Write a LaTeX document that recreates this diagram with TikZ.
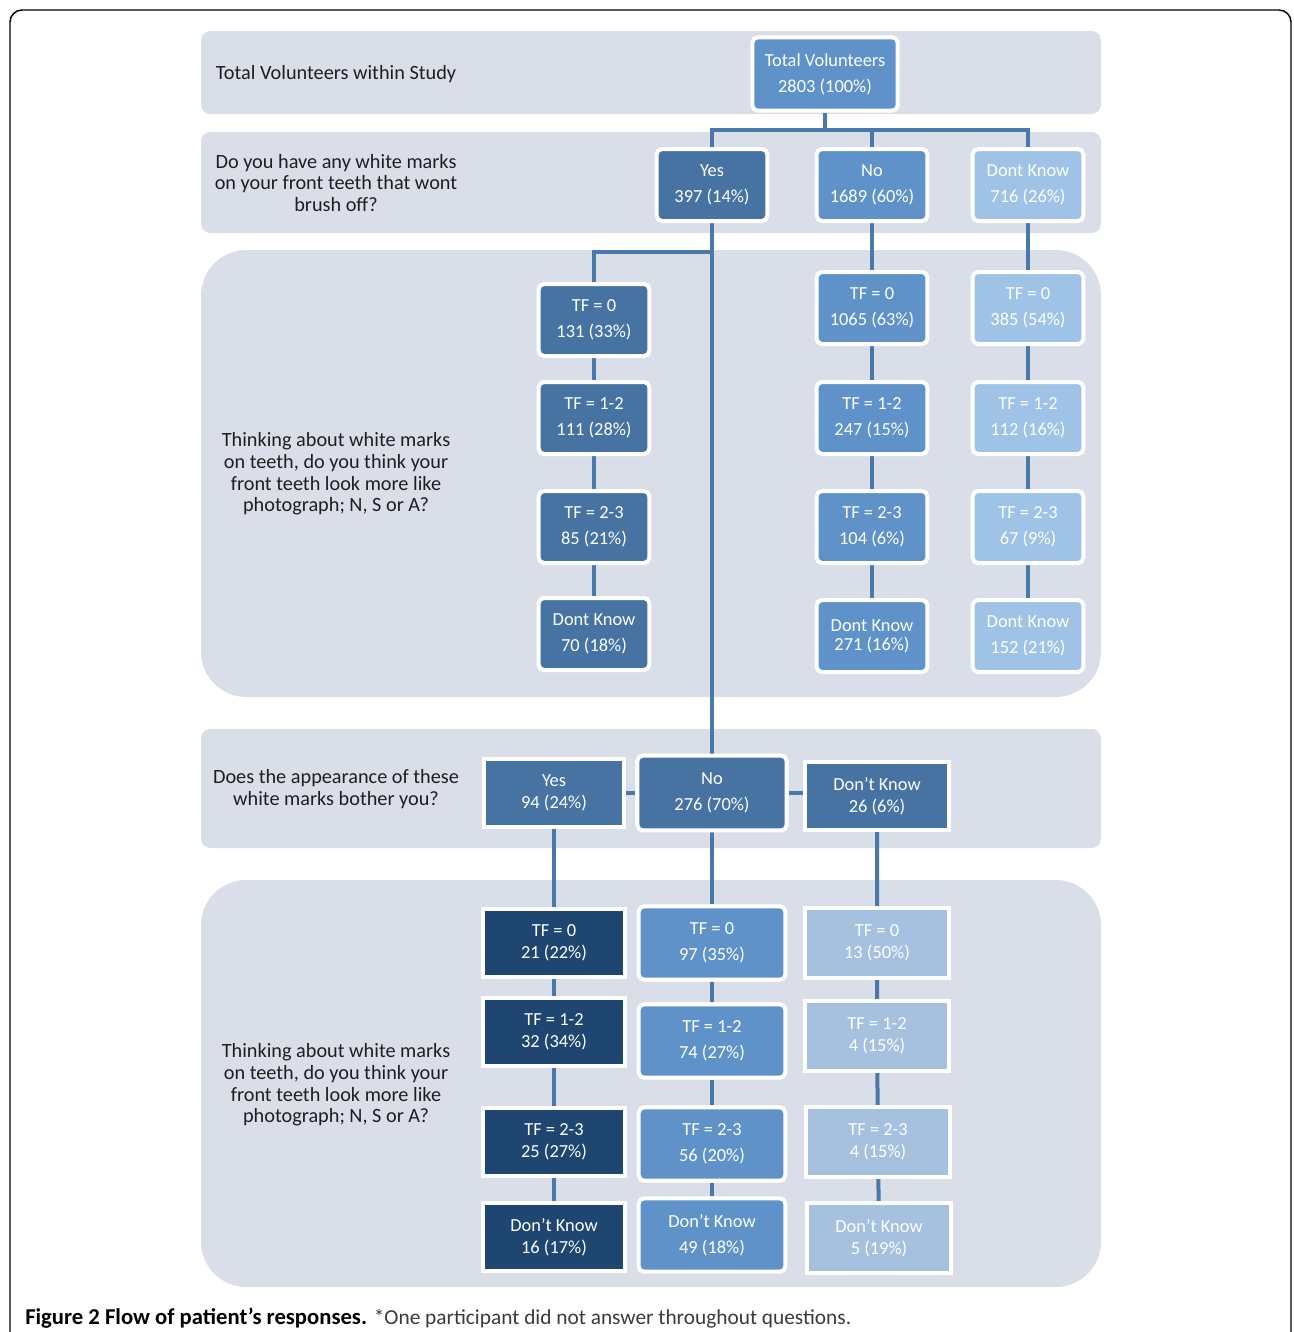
\documentclass[tikz,border=0pt]{standalone}
\usepackage{fontspec}
\setmainfont{Carlito}
\usepackage{tikz}
\usetikzlibrary{backgrounds,positioning}
\definecolor{bandgray}{HTML}{D9DEE9}
\definecolor{linkblue}{HTML}{4A78A8}
\definecolor{darkbox}{HTML}{4673A2}
\definecolor{midbox}{HTML}{5F92C8}
\definecolor{lightbox}{HTML}{9EC3E7}
\definecolor{navybox}{HTML}{1F4670}
\definecolor{palebox}{HTML}{A6C0E0}
\definecolor{capgray}{HTML}{3A3A3A}

\begin{document}
\begin{tikzpicture}[x=0.75pt,y=-0.75pt,
    rbox/.style={draw=white, line width=3pt, rounded corners=4pt, text=white, align=center,
        inner sep=0pt, minimum width=83pt, minimum height=54pt, font=\fontsize{13.8}{19.5}\selectfont},
    sbox/.style={rbox, rounded corners=0pt, font=\fontsize{13.8}{16.5}\selectfont},
    band/.style={fill=bandgray, rounded corners=7pt},
    bigband/.style={fill=bandgray, rounded corners=34pt},
    link/.style={draw=linkblue, line width=3pt},
    question/.style={align=center, text=black!88, font=\fontsize{15.2}{16}\selectfont}]
                \useasboundingbox (0,0) rectangle (1293,1332);
                \draw[line width=1.1pt, rounded corners=9pt] (10,1340) -- (10,10) -- (1291,10) -- (1291,1340);

                % questions
                \node[question] (qtot) at (336,74) {Total Volunteers within Study};
                \node[question] (qmarks) at (336,183) {Do you have any white marks\\on your front teeth that wont\\brush off?};
                \node[question, font=\fontsize{15.2}{16.3}\selectfont] (qphoto1) at (336,474) {Thinking about white marks\\on teeth, do you think your\\front teeth look more like\\photograph; N, S or A?};
                \node[question] (qbother) at (336,789) {Does the appearance of these\\white marks bother you?};
                \node[question, font=\fontsize{15.2}{16.3}\selectfont] (qphoto2) at (336,1085) {Thinking about white marks\\on teeth, do you think your\\front teeth look more like\\photograph; N, S or A?};

                % total and first answer
                \node[rbox, fill=midbox, minimum width=109pt, minimum height=55pt] (tot) at (825,74) {Total Volunteers\\2803 (100\%)};
                \node[rbox, fill=darkbox] (ayes) at (712,185) {Yes\\397 (14\%)};
                \node[rbox, fill=midbox] (ano) at (872,185) {No\\1689 (60\%)};
                \node[rbox, fill=lightbox] (adk) at (1028,185) {Dont Know\\716 (26\%)};

                % yes column
                \node[rbox, fill=darkbox] (y0) at (594,320) {TF = 0\\131 (33\%)};
                \node[rbox, fill=darkbox] (y12) at (594,418) {TF = 1-2\\111 (28\%)};
                \node[rbox, fill=darkbox] (y23) at (594,527) {TF = 2-3\\85 (21\%)};
                \node[rbox, fill=darkbox] (ydk) at (594,634) {Dont Know\\70 (18\%)};
                % no column
                \node[rbox, fill=midbox] (n0) at (872,308) {TF = 0\\1065 (63\%)};
                \node[rbox, fill=midbox] (n12) at (872,418) {TF = 1-2\\247 (15\%)};
                \node[rbox, fill=midbox] (n23) at (872,527) {TF = 2-3\\104 (6\%)};
                \node[rbox, fill=midbox, font=\fontsize{13.8}{14.2}\selectfont] (ndk) at (872,636) {Dont Know\\271 (16\%)};
                % dont know column
                \node[rbox, fill=lightbox] (d0) at (1028,308) {TF = 0\\385 (54\%)};
                \node[rbox, fill=lightbox] (d12) at (1028,418) {TF = 1-2\\112 (16\%)};
                \node[rbox, fill=lightbox] (d23) at (1028,527) {TF = 2-3\\67 (9\%)};
                \node[rbox, fill=lightbox] (ddk) at (1028,636) {Dont Know\\152 (21\%)};

                % bother
                \node[sbox, fill=darkbox, minimum width=105pt, minimum height=51pt] (byes) at (554,793) {Yes\\94 (24\%)};
                \node[rbox, fill=darkbox, minimum width=112pt, minimum height=56pt] (bno) at (712,793) {No\\276 (70\%)};
                \node[sbox, fill=darkbox, minimum width=108pt, minimum height=51pt] (bdk) at (877,796) {Don’t Know\\26 (6\%)};

                \tikzset{lcol/.style={sbox, fill=navybox, minimum width=106pt, minimum height=51pt},
                         mcol/.style={rbox, fill=midbox, minimum width=110pt, minimum height=55pt},
                         pcol/.style={sbox, fill=palebox, minimum width=108pt, minimum height=52pt}}
                \node[lcol] (l0) at (554,943) {TF = 0\\21 (22\%)};
                \node[lcol] (l12) at (554,1032) {TF = 1-2\\32 (34\%)};
                \node[lcol] (l23) at (554,1142) {TF = 2-3\\25 (27\%)};
                \node[lcol] (ldk) at (554,1237) {Don’t Know\\16 (17\%)};
                \node[mcol] (m0) at (712,943) {TF = 0\\97 (35\%)};
                \node[mcol] (m12) at (712,1041) {TF = 1-2\\74 (27\%)};
                \node[mcol] (m23) at (712,1144) {TF = 2-3\\56 (20\%)};
                \node[mcol] (mdk) at (712,1235) {Don’t Know\\49 (18\%)};
                \node[pcol] (p0) at (877,943) {TF = 0\\13 (50\%)};
                \node[pcol] (p12) at (877,1036) {TF = 1-2\\4 (15\%)};
                \node[pcol] (p23) at (878,1142) {TF = 2-3\\4 (15\%)};
                \node[pcol] (pdk) at (879,1238) {Don’t Know\\5 (19\%)};

                \coordinate (bar1) at (825,130);
                \coordinate (bar2) at (712,252);

                \begin{scope}[on background layer]
                \fill[band] (201,31) rectangle (1101,114);
                \fill[band] (201,132) rectangle (1101,233);
                \fill[bigband] (201,250) rectangle (1101,697);
                \fill[band] (201,729) rectangle (1101,848);
                \fill[bigband] (201,880) rectangle (1101,1287);

                \draw[link] (tot) -- (bar1);
                \draw[link] (ayes.north) |- (bar1) -| (adk.north);
                \draw[link] (ano.north) -- (ano.north |- bar1);
                \draw[link] (ayes) -- (bno);
                \draw[link] (bar2) -| (y0.north);
                \draw[link] (ano) -- (n0) -- (n12) -- (n23) -- (ndk);
                \draw[link] (adk) -- (d0) -- (d12) -- (d23) -- (ddk);
                \draw[link] (y0) -- (y12) -- (y23) -- (ydk);
                \draw[link] (byes.east) -- (bno.west |- byes.east);
                \draw[link] (bno.east) -- (bdk.west |- bno.east);
                \draw[link] (byes) -- (l0) -- (l12) -- (l23) -- (ldk);
                \draw[link] (bno) -- (m0) -- (m12) -- (m23) -- (mdk);
                \draw[link] (bdk) -- (p0) -- (p12) -- (p23) -- (pdk);
                \end{scope}

                % caption
                \node[anchor=west, inner sep=0pt] (cap) at (25,1318)
                    {\fontsize{17}{18}\selectfont\textbf{Figure 2 Flow of patient’s responses.} \fontsize{16}{18}\selectfont\textcolor{capgray}{*One participant did not answer throughout questions.}};
            \end{tikzpicture}
\end{document}
